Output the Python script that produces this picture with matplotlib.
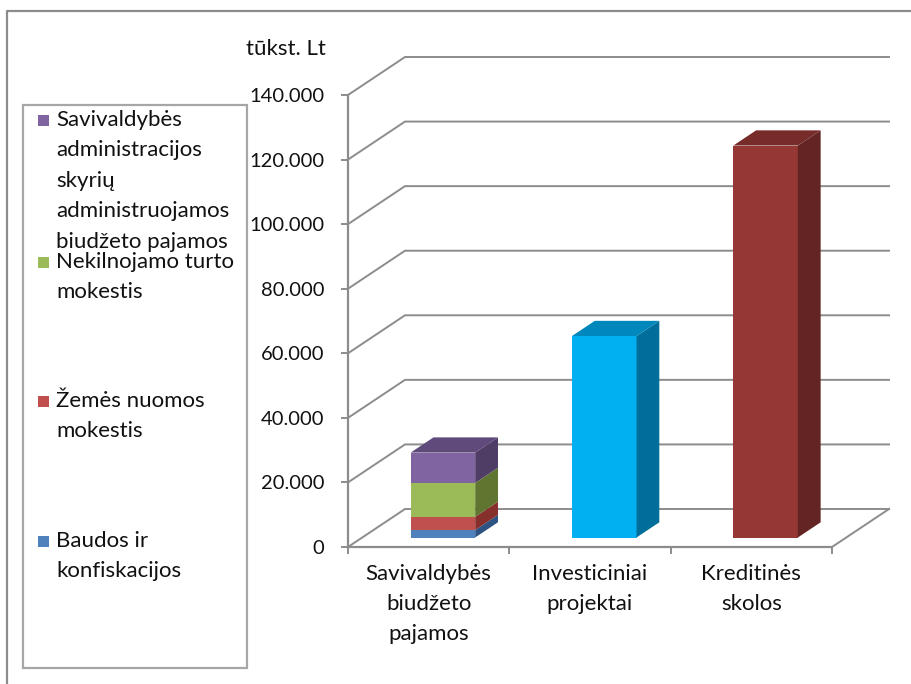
import matplotlib
matplotlib.use("Agg")
import matplotlib.pyplot as plt
from matplotlib.patches import Polygon, Rectangle
from matplotlib.lines import Line2D
from matplotlib.ticker import FuncFormatter, FixedLocator

plt.rcParams['font.family'] = ['Lato', 'Open Sans', 'DejaVu Sans']

# ---- data (thousand Lt) ----
categories = ["Savivaldybės\nbiudžeto\npajamos", "Investiciniai\nprojektai", "Kreditinės\nskolos"]
stack_names = ["Baudos ir\nkonfiskacijos", "Žemės nuomos\nmokestis",
               "Nekilnojamo turto\nmokestis",
               "Savivaldybės\nadministracijos\nskyrių\nadministruojamos\nbiudžeto pajamos"]
stack_values = [2300, 4100, 10500, 9400]          # first category, bottom to top
investiciniai = 62400
kreditines = 121400
y_ticks = [0, 20000, 40000, 60000, 80000, 100000, 120000, 140000]

# face colours: (front, top, side)
stack_colors = [("#4F81BD", "#3A6396", "#2C5382"),
                ("#C0504D", "#9A3B39", "#862F2D"),
                ("#9BBB59", "#76923C", "#5F7530"),
                ("#8064A2", "#604A7B", "#4F3D66")]
cyan_colors = ("#00B0F0", "#0088BC", "#006E9A")
red_colors = ("#953735", "#772C2A", "#632523")

W, H, DPI = 912, 684, 100
fig = plt.figure(figsize=(W / DPI, H / DPI), dpi=DPI)

def fx(px):
    return px / W

def fy(py):
    return 1 - py / H

# plot area geometry
ax_l, ax_r, ax_b, ax_t = 348, 905, 547, 30
px_per_x = (832 - 348) / 3.0
px_per_y = (547 - 95) / 140000.0
ax = fig.add_axes([fx(ax_l), fy(ax_b), fx(ax_r - ax_l), (ax_b - ax_t) / H])
ax.set_xlim(-0.5, -0.5 + (ax_r - ax_l) / px_per_x)
ax.set_ylim(0, (ax_b - ax_t) / px_per_y)
ax.patch.set_alpha(0)

# oblique depth of the floor/walls
DX = 57 / px_per_x
DY = 38 / px_per_y
Z0, Z1 = 0.25, 0.65
BAR_W = 0.4

def proj(x, y, z):
    return (x + z * DX, y + z * DY)

grid_c = "#8C8C8C"
x0, x1 = -0.5, 2.5
for v in y_ticks:
    pts = [proj(x0, v, 0), proj(x0, v, 1), proj(x1, v, 1)]
    ax.add_line(Line2D([p[0] for p in pts], [p[1] for p in pts], color=grid_c,
                       lw=1.4, zorder=1, solid_joinstyle='miter'))
# right edge of floor
p_a, p_b = proj(x1, 0, 0), proj(x1, 0, 1)
ax.add_line(Line2D([p_a[0], p_b[0]], [p_a[1], p_b[1]], color=grid_c, lw=1.4, zorder=1))

def draw_box(xc, bottom, height, colors, with_top=True):
    front, top, side = colors
    xl, xr = xc - BAR_W / 2, xc + BAR_W / 2
    fx0, fy0 = proj(xl, bottom, Z0)
    ax.bar(fx0, height, bottom=fy0, width=BAR_W, align='edge', color=front,
           edgecolor='none', zorder=3)
    side_pts = [proj(xr, bottom, Z0), proj(xr, bottom, Z1),
                proj(xr, bottom + height, Z1), proj(xr, bottom + height, Z0)]
    ax.add_patch(Polygon(side_pts, closed=True, facecolor=side, edgecolor='none', zorder=3))
    if with_top:
        t = bottom + height
        top_pts = [proj(xl, t, Z0), proj(xr, t, Z0), proj(xr, t, Z1), proj(xl, t, Z1)]
        ax.add_patch(Polygon(top_pts, closed=True, facecolor=top, edgecolor='none', zorder=3))

base = 0
for k, (val, cols) in enumerate(zip(stack_values, stack_colors)):
    draw_box(0, base, val, cols, with_top=(k == len(stack_values) - 1))
    base += val
draw_box(1, 0, investiciniai, cyan_colors)
draw_box(2, 0, kreditines, red_colors)

# axes lines and ticks
for s in ("top", "right"):
    ax.spines[s].set_visible(False)
for s in ("left", "bottom"):
    ax.spines[s].set_color(grid_c)
    ax.spines[s].set_linewidth(1.6)
ax.spines["left"].set_bounds(0, 140000)
ax.spines["bottom"].set_bounds(x0, x1)

fs_num = 14.5
fs_txt = 16
txt_c = "#111111"
ax.set_yticks(y_ticks)
ax.yaxis.set_major_formatter(FuncFormatter(
    lambda v, p: "0" if v == 0 else f"{int(v):,}".replace(",", ".")))
ax.tick_params(axis='y', direction='out', length=5, width=1.4, color=grid_c,
               labelsize=fs_num, pad=12, labelcolor=txt_c)

ax.xaxis.set_major_locator(FixedLocator([-0.5, 0.5, 1.5, 2.5]))
ax.xaxis.set_major_formatter(FuncFormatter(lambda v, p: ""))
ax.xaxis.set_minor_locator(FixedLocator([0, 1, 2]))
ax.set_xticklabels(categories, minor=True, fontsize=fs_txt, color=txt_c,
                   linespacing=1.62)
ax.tick_params(axis='x', which='major', direction='out', length=5, width=1.4, color=grid_c)
ax.tick_params(axis='x', which='minor', length=0, pad=12)

fig.text(fx(246), fy(49), "tūkst. Lt", fontsize=fs_txt, ha='left', va='center', color=txt_c)

# legend box
fig.patches.append(Rectangle((fx(23), fy(668)), fx(247 - 23), (668 - 105) / H,
                             transform=fig.transFigure, facecolor='white',
                             edgecolor="#A6A6A6", lw=1.6, zorder=0))
legend_rows = [(3, 120), (2, 262), (1, 401), (0, 541)]
for idx, yc in legend_rows:
    fig.patches.append(Rectangle((fx(38), fy(yc + 6)), fx(11), 11 / H,
                                 transform=fig.transFigure,
                                 facecolor=stack_colors[idx][0], edgecolor='none'))
    fig.text(fx(56), fy(yc - 10), stack_names[idx], fontsize=fs_txt, ha='left', va='top',
             linespacing=1.65, color=txt_c)

# outer chart frame
fig.add_artist(Line2D([fx(7), fx(7), fx(912)], [fy(684), fy(11), fy(11)],
                      transform=fig.transFigure, color="#8C8C8C", lw=1.6))

fig.savefig("out.png", dpi=DPI)
